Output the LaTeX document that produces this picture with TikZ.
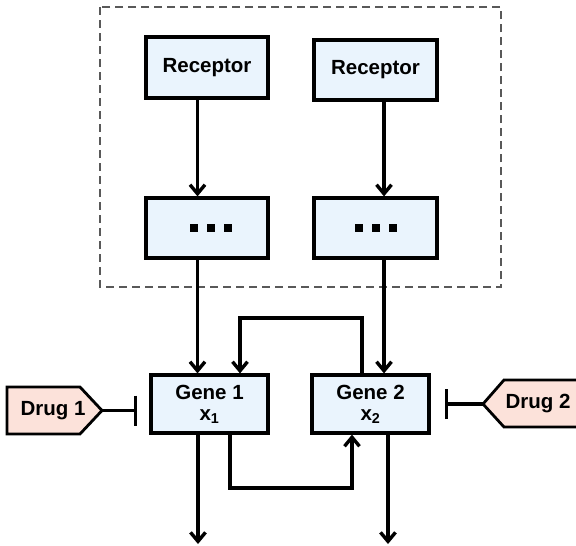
\documentclass[tikz,border=0pt]{standalone}
\usepackage{fontspec}
\setmainfont{Liberation Sans}
\usetikzlibrary{arrows.meta}
\definecolor{boxfill}{HTML}{EAF4FD}
\definecolor{drugfill}{HTML}{FCE2DA}
\begin{document}
\begin{tikzpicture}[x=1pt,y=-1pt,
  box/.style={draw=black,line width=3.2pt,fill=boxfill,rectangle,inner sep=0pt,
    font=\fontsize{20.5}{23}\selectfont\bfseries,align=center},
  conn/.style={line width=3.4pt,draw=black},
  arr/.style={conn,-{Straight Barb[length=9pt,width=15pt]}},
  inh/.style={conn,-{Bar[width=30pt]}},
  drug/.style={draw=black,line width=2.8pt,fill=drugfill,line join=miter},
  dtext/.style={font=\fontsize{20.5}{23}\selectfont\bfseries,inner sep=0pt}]
\useasboundingbox (0,0) rectangle (576,546);
\draw[dashed,draw=black!65,line width=2pt,dash pattern=on 8pt off 5pt] (100,7) rectangle (501,287);
\node[box,minimum width=122pt,minimum height=61pt] (rec1) at (207,67.5) {Receptor};
\node[box,minimum width=123pt,minimum height=60pt] (rec2) at (375.5,70) {Receptor};
\node[box,minimum width=122pt,minimum height=60pt] (dot1) at (207,228)
  {\hspace{8pt}\rule{8pt}{8pt}\hspace{9pt}\rule{8pt}{8pt}\hspace{9pt}\rule{8pt}{8pt}};
\node[box,minimum width=123pt,minimum height=60pt] (dot2) at (375.5,228)
  {\rule{8pt}{8pt}\hspace{9pt}\rule{8pt}{8pt}\hspace{9pt}\rule{8pt}{8pt}};
\node[box,minimum width=117pt,minimum height=58pt] (gene1) at (209.5,404)
  {Gene 1\\[-2pt]$\mathbf{x}_{\mathbf{1}}$};
\node[box,minimum width=117pt,minimum height=58pt] (gene2) at (370.5,404)
  {Gene 2\\[-2pt]$\mathbf{x}_{\mathbf{2}}$};
% drugs
\draw[drug] (7,387) -- (80,387) -- (102,410.5) -- (80,434) -- (7,434) -- cycle;
\node[dtext] (drug1) at (53,410.5) {Drug 1};
\coordinate (d1tip) at (102,410.5);
\draw[drug] (580,380) -- (504,380) -- (483,404) -- (504,427) -- (580,427) -- cycle;
\node[dtext] (drug2) at (538,404) {Drug 2};
\coordinate (d2tip) at (483,404);
\coordinate (b1) at (137,410.5);
\coordinate (b2) at (445,404);
\draw[inh] (d1tip) -- (b1);
\draw[inh] (d2tip) -- (b2);
% vertical arrows
\coordinate (a1) at (197.5,0);
\coordinate (a2) at (384,0);
\draw[arr] (rec1.south -| a1) -- (dot1.north -| a1);
\draw[arr] (rec2.south -| a2) -- (dot2.north -| a2);
\draw[arr] (dot1.south -| a1) -- (gene1.north -| a1);
\draw[arr] (dot2.south -| a2) -- (gene2.north -| a2);
% top feedback
\coordinate (t2) at (362,318);
\coordinate (t1) at (240,318);
\draw[arr,line join=miter] (gene2.north -| t2) -- (t2) -- (t1) -- (gene1.north -| t1);
% bottom feedback
\coordinate (f1) at (230,488);
\coordinate (f2) at (352,488);
\draw[arr,line join=miter] (gene1.south -| f1) -- (f1) -- (f2) -- (gene2.south -| f2);
% outputs
\coordinate (o1) at (198,544);
\coordinate (o2) at (388,544);
\draw[arr] (gene1.south -| o1) -- (o1);
\draw[arr] (gene2.south -| o2) -- (o2);
\end{tikzpicture}
\end{document}
